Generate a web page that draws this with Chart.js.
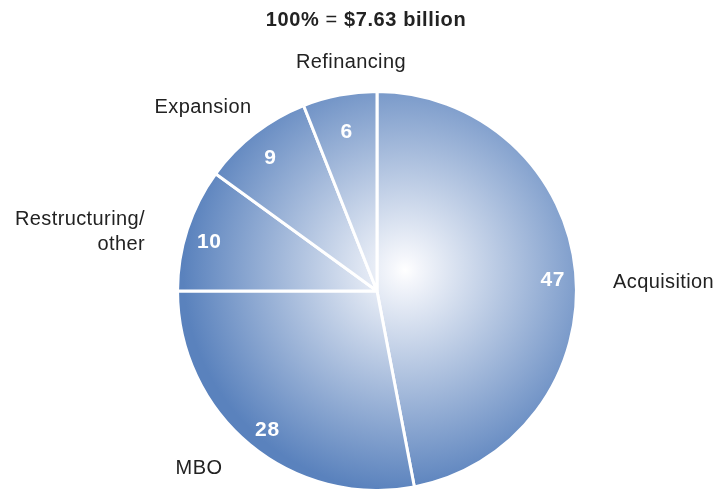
<!DOCTYPE html>
<html>
<head>
<meta charset="utf-8">
<script src="https://cdn.jsdelivr.net/npm/chart.js@4.4.1/dist/chart.umd.min.js"></script>
<style>
  html, body { margin: 0; padding: 0; background: #fff; }
  #wrap { width: 716px; height: 489px; position: relative; }
</style>
</head>
<body>
<div id="wrap"><canvas id="pie"></canvas></div>
<script>
// Deal purpose, share of total value (%)
const categories = ['Acquisition', 'MBO', 'Restructuring/\nother', 'Expansion', 'Refinancing'];
const shares = [47, 28, 10, 9, 6];
const titleParts = [['100%', 'bold'], [' = ', 'normal'], ['$7.63 billion', 'bold']];

const FONT = "'Liberation Sans', Arial, sans-serif";

// where each category name sits, relative to the pie centre
const labelSpots = [
    { dx: 236, dy: -9, align: 'left' },
    { dx: -178, dy: 177, align: 'center' },
    { dx: -232, dy: -72, align: 'right' },
    { dx: -174, dy: -184, align: 'center' },
    { dx: -26, dy: -229, align: 'center' }
];
const valueRadius = [0.88, 0.87, 0.89, 0.88, 0.84];

function sliceFill(context) {
    const chart = context.chart;
    const area = chart.chartArea;
    if (!area) return '#7f9dcd';
    const cx = (area.left + area.right) / 2 + 28;
    const cy = (area.top + area.bottom) / 2 - 21;
    const g = chart.ctx.createRadialGradient(cx, cy, 0, cx, cy, 222);
    g.addColorStop(0, '#ffffff');
    g.addColorStop(0.06, '#f4f6fb');
    g.addColorStop(1, '#5a82bd');
    return g;
}

const labelsPlugin = {
    id: 'pieLabels',
    afterDraw(chart) {
        const ctx = chart.ctx;
        const meta = chart.getDatasetMeta(0);
        ctx.save();

        // title
        ctx.letterSpacing = '0.6px';
        let total = 0;
        titleParts.forEach(p => {
            ctx.font = p[1] + ' 20px ' + FONT;
            total += ctx.measureText(p[0]).width;
        });
        let x = 366 - total / 2;
        ctx.fillStyle = '#222';
        ctx.textBaseline = 'middle';
        ctx.textAlign = 'left';
        titleParts.forEach(p => {
            ctx.font = p[1] + ' 20px ' + FONT;
            ctx.fillText(p[0], x, 20);
            x += ctx.measureText(p[0]).width;
        });

        meta.data.forEach((arc, i) => {
            const p = arc.getProps(['x', 'y', 'startAngle', 'endAngle', 'outerRadius'], true);
            const mid = (p.startAngle + p.endAngle) / 2;
            const r = p.outerRadius * valueRadius[i];

            // value inside slice
            ctx.letterSpacing = '0.6px';
            ctx.font = 'bold 21px ' + FONT;
            ctx.fillStyle = '#ffffff';
            ctx.textAlign = 'center';
            ctx.fillText(String(shares[i]), p.x + Math.cos(mid) * r + 1, p.y + Math.sin(mid) * r + 6);

            // category name
            const spot = labelSpots[i];
            ctx.letterSpacing = '0.4px';
            ctx.font = '20px ' + FONT;
            ctx.fillStyle = '#222';
            ctx.textAlign = spot.align;
            const lines = categories[i].split('\n');
            lines.forEach((line, k) => {
                ctx.fillText(line, p.x + spot.dx, p.y + spot.dy + k * 25);
            });
        });
        ctx.restore();
    }
};

new Chart(document.getElementById('pie'), {
    type: 'pie',
    data: {
        labels: categories,
        datasets: [{
            data: shares,
            backgroundColor: sliceFill,
            borderColor: '#ffffff',
            borderWidth: 3,
            radius: '101.5%'
        }]
    },
    options: {
        responsive: true,
        maintainAspectRatio: false,
        animation: false,
        layout: { padding: { top: 93, bottom: 0, left: 38, right: 0 } },
        plugins: {
            legend: { display: false },
            tooltip: { enabled: false }
        }
    },
    plugins: [labelsPlugin]
});
</script>
</body>
</html>
